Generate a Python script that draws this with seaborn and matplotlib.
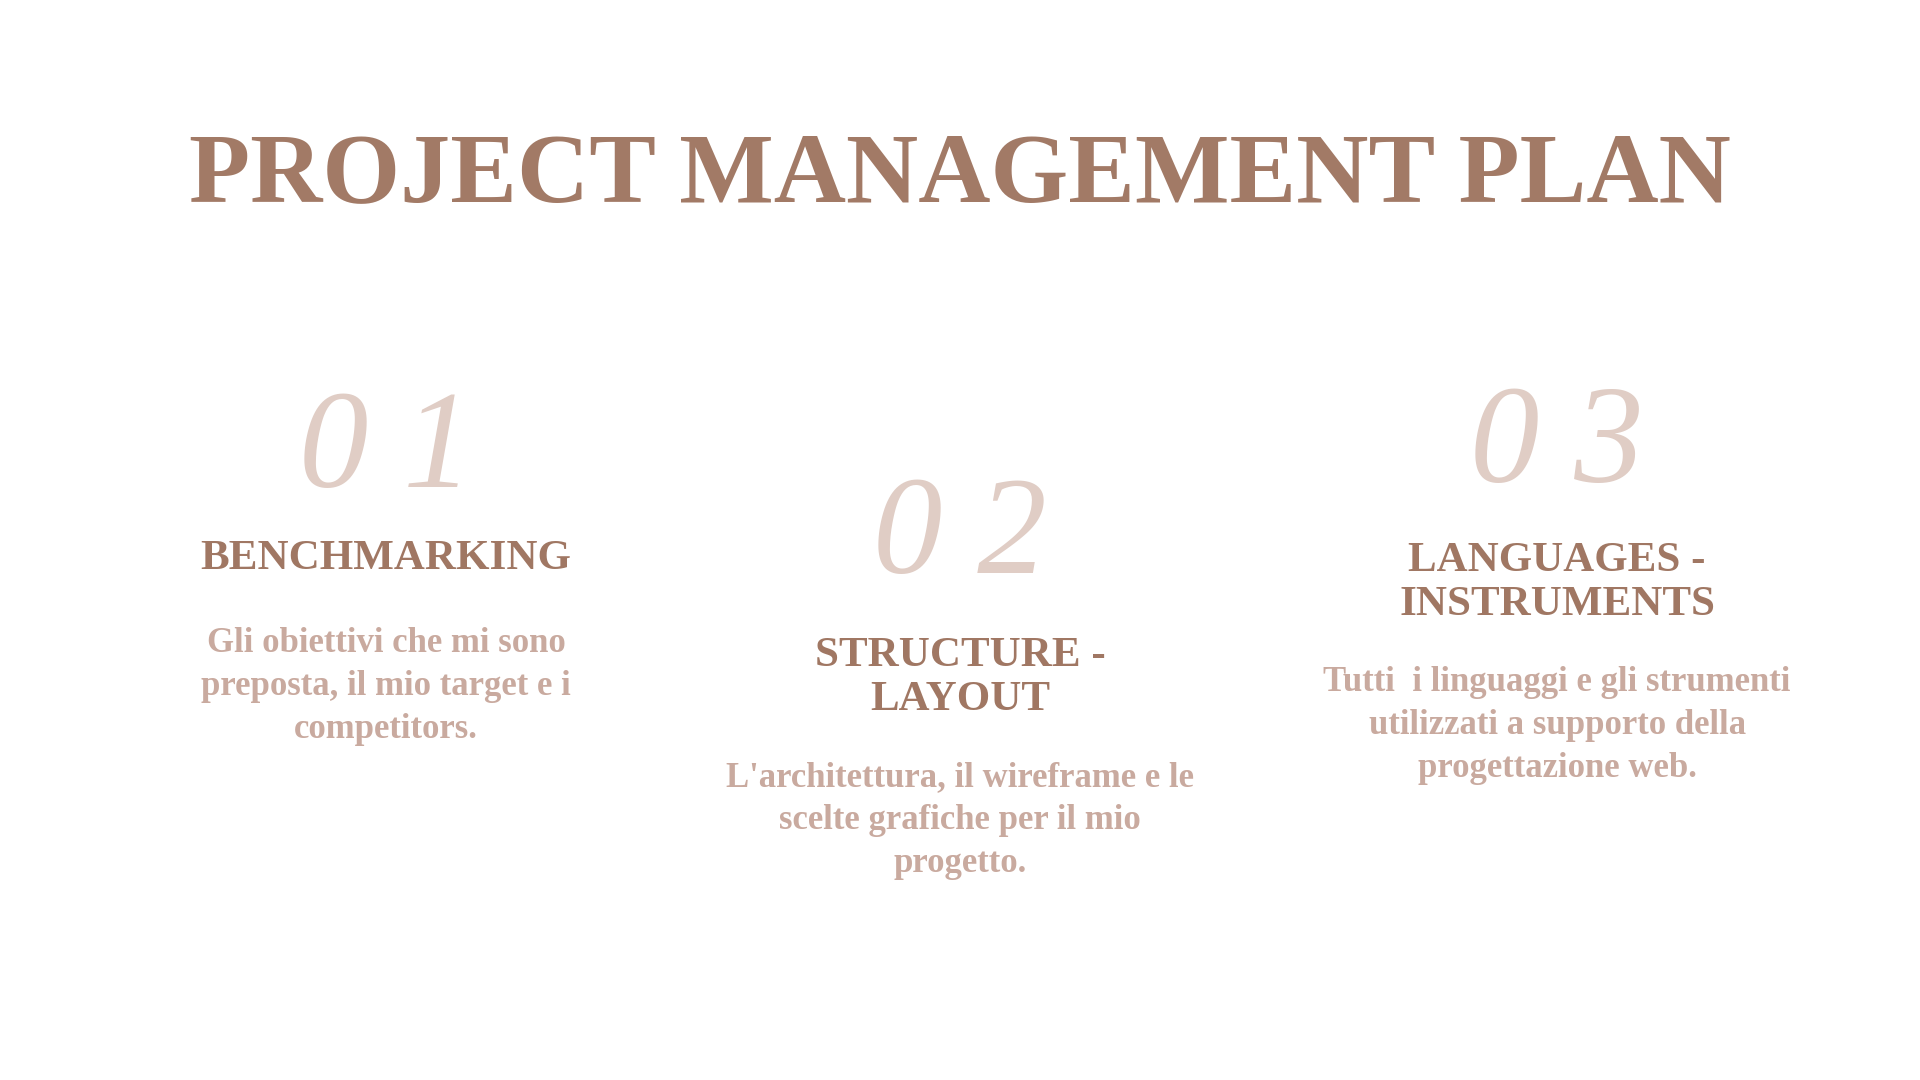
import matplotlib.pyplot as plt
import seaborn as sns

# slide content
heading = 'PROJECT MANAGEMENT PLAN'
numbers = ['0 1', '0 2', '0 3']
titles = ['BENCHMARKING', 'STRUCTURE -\nLAYOUT', 'LANGUAGES -\nINSTRUMENTS']
descriptions = [
    'Gli obiettivi che mi sono\npreposta, il mio target e i\ncompetitors.',
    "L'architettura, il wireframe e le\nscelte grafiche per il mio\nprogetto.",
    'Tutti  i linguaggi e gli strumenti\nutilizzati a supporto della\nprogettazione web.',
]
col_x = [0.201, 0.5, 0.811]
num_y = [0.58, 0.50, 0.585]
title_y = [0.482, 0.372, 0.46]
desc_y = [0.364, 0.24, 0.328]

sns.set_theme(style='white')
plt.rcParams['font.family'] = ['Liberation Serif', 'DejaVu Serif']

fig = plt.figure(figsize=(19.2, 10.8), dpi=100)
fig.patch.set_facecolor('white')
ax = fig.add_axes([0, 0, 1, 1])
ax.set_xlim(0, 1)
ax.set_ylim(0, 1)
ax.axis('off')

ax.text(0.5, 0.836, heading, ha='center', va='center', fontsize=72,
        fontweight='bold', color='#a27a66')

for x, n, yn, t, yt, d, yd in zip(col_x, numbers, num_y, titles, title_y,
                                   descriptions, desc_y):
    ax.text(x, yn, n, ha='center', va='center', fontsize=100, style='italic',
            color='#e0cdc5', fontweight='light')
    ax.text(x, yt, t, ha='center', va='center', fontsize=31, fontweight='bold',
            color='#a07763', linespacing=1.2)
    ax.text(x, yd, d, ha='center', va='center', fontsize=25, fontweight='bold',
            color='#c9aa9f', linespacing=1.4)

fig.savefig('out.png', dpi=100, facecolor='white')
